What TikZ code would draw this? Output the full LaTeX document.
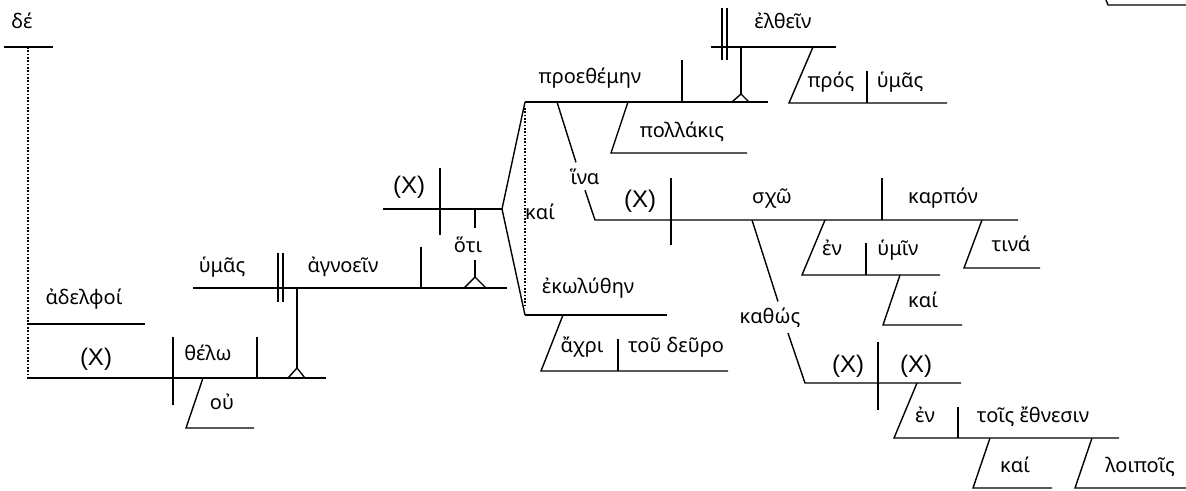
\documentclass[tikz,border=0pt]{standalone}
\usepackage{fontspec}
\setmainfont{Noto Sans}
\newfontfamily\xfont{Liberation Sans}
\usetikzlibrary{calc}

\begin{document}
\begin{tikzpicture}[x=0.75pt,y=-0.75pt,line width=1.05pt,
                    word/.style={anchor=base,inner sep=0pt,font=\fontsize{15}{18}\selectfont},
                    link/.style={word,inner sep=4pt},
                    ex/.style={anchor=base,inner sep=0pt,font=\xfont\fontsize{18}{20}\selectfont},
                    dots/.style={line width=1.2pt,dash pattern=on 1.2pt off 1.3pt}
                ]
                    \useasboundingbox (0,0) rectangle (1186,490);

                    % main clause
                    \node[word] (de) at (22,28) {δέ};
                    \draw (4,47) -- (53,47);
                    \draw[dots] (28,47) -- (28,378);
                    \node[word] (adelphoi) at (84,304) {ἀδελφοί};
                    \draw (27,324) -- (145,324);
                    \draw (27,378) -- (326,378);
                    \node[ex] (x1) at (96,365) {(X)};
                    \draw (173,337) -- (173,405);
                    \node[word] (thelo) at (208,360) {θέλω};
                    \draw (257,337) -- (257,378);
                    \draw (203,378) -- (186,428) -- (254,428);
                    \node[word] (ou) at (222,409) {οὐ};

                    % object infinitive
                    \draw (297,288) -- (297,368);
                    \draw (288,378) -- (297,368) -- (305,378);
                    \draw (193,288) -- (507,288);
                    \draw (278,253) -- (278,302);
                    \draw (283,253) -- (283,302);
                    \node[word] (hymas) at (222,272) {ὑμᾶς};
                    \node[word] (agnoein) at (343,272) {ἀγνοεῖν};
                    \draw (421,247) -- (421,288);

                    % hoti clause
                    \draw (383,209) -- (502,209);
                    \node[ex] (x2) at (409,193) {(X)};
                    \draw (440,168) -- (440,235);
                    \draw (475,209) -- (475,228);
                    \node[word] (hoti) at (468,252) {ὅτι};
                    \draw (475,260) -- (475,277);
                    \draw (464,288) -- (475,277) -- (486,288);
                    \draw (525,102) -- (502,209) -- (525,315);
                    \draw[dots] (525,108) -- (525,308);
                    \node[word] (kai) at (540,219) {καί};

                    \draw (525,102) -- (768,102);
                    \node[word] (proethemen) at (590,83) {προεθέμην};
                    \draw (682,60) -- (682,102);
                    \draw (628,102) -- (611,153) -- (747,153);
                    \node[word] (pollakis) at (682,137) {πολλάκις};
                    \draw (741,47) -- (741,94);
                    \draw (732,102) -- (741,94) -- (749,102);
                    \draw (711,47) -- (836,47);
                    \draw (722,8) -- (722,60);
                    \draw (727,8) -- (727,60);
                    \node[word] (elthein) at (783,28) {ἐλθεῖν};
                    \draw (813,47) -- (789,103) -- (947,103);
                    \draw (867,71) -- (867,103);
                    \node[word] (pros) at (831,87) {πρός};
                    \node[word] (hymas2) at (900,87) {ὑμᾶς};

                    \draw (525,315) -- (667,315);
                    \node[word] (ekolythen) at (588,293) {ἐκωλύθην};
                    \draw (563,315) -- (541,371) -- (728,371);
                    \draw (618,339) -- (618,371);
                    \node[word] (achri) at (582,352) {ἄχρι};
                    \node[word] (deuro) at (676,352) {τοῦ δεῦρο};

                    % hina clause
                    \node[link] (hina) at (585,184) {ἵνα};
                    \draw (557,102) -- ($(hina.north)+(-9,0)$);
                    \draw (hina.south) -- (595,220) -- (1018,220);
                    \node[ex] (x3) at (640,207) {(X)};
                    \draw (671,178) -- (671,245);
                    \node[word] (scho) at (772,203) {σχῶ};
                    \draw (882,178) -- (882,220);
                    \node[word] (karpon) at (943,203) {καρπόν};
                    \draw (825,220) -- (802,275) -- (940,275);
                    \draw (866,243) -- (866,275);
                    \node[word] (en) at (832,255) {ἐν};
                    \node[word] (hymin) at (898,255) {ὑμῖν};
                    \draw (900,275) -- (883,325) -- (962,325);
                    \node[word] (kai2) at (923,307) {καί};
                    \draw (982,220) -- (964,268) -- (1040,268);
                    \node[word] (tina) at (1011,251) {τινά};

                    % kathos clause
                    \node[link] (kathos) at (770,323) {καθώς};
                    \draw (752,220) -- ($(kathos.north)+(8,0)$);
                    \draw ($(kathos.south)+(18,0)$) -- (805,383) -- (961,383);
                    \node[ex] (x4) at (848,372) {(X)};
                    \draw (878,342) -- (878,410);
                    \node[ex] (x5) at (916,372) {(X)};
                    \draw (917,383) -- (894,438) -- (1119,438);
                    \draw (958,407) -- (958,438);
                    \node[word] (en2) at (925,422) {ἐν};
                    \node[word] (ethnesin) at (1033,422) {τοῖς ἔθνεσιν};
                    \draw (990,438) -- (973,488) -- (1052,488);
                    \node[word] (kai3) at (1015,472) {καί};
                    \draw (1092,438) -- (1075,488) -- (1186,488);
                    \node[word] (loipois) at (1140,472) {λοιποῖς};

                    \draw (1106,0) -- (1108,5) -- (1186,5);

                \end{tikzpicture}
\end{document}
